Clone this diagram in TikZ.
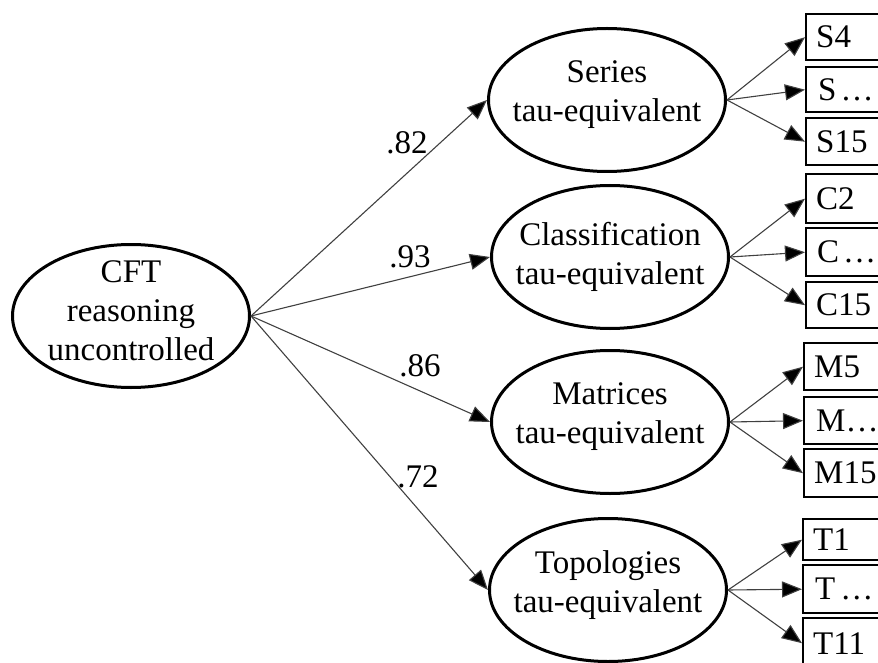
\documentclass[tikz,border=0pt]{standalone}
\usepackage{fontspec}
\setmainfont{Liberation Serif}
\usetikzlibrary{shapes.geometric,arrows.meta}
\begin{document}
\begin{tikzpicture}[x=1pt,y=-1pt,
  font=\fontsize{33}{39}\selectfont,
  latent/.style={ellipse,draw,line width=3pt,minimum width=237pt,minimum height=143pt,inner sep=0pt},
  ltext/.style={label={[align=center,inner sep=0pt,yshift=5pt]center:#1}},
  item/.style={rectangle,draw,line width=2.4pt,text width=80pt,align=left,anchor=north west,inner xsep=10pt,inner ysep=0pt},
  conn/.style={draw=black!75,line width=1.1pt,-{Triangle[length=20pt,width=16pt,fill=black]}},
  lbl/.style={inner sep=0pt}]
\useasboundingbox (0,0) rectangle (878,663);
\clip (0,0) rectangle (878,663);
\node[latent,ltext={CFT\\reasoning\\uncontrolled}] (cft) at (131,316) {};
\node[latent,ltext={Series\\tau-equivalent}] (ser) at (607,100) {};
\node[latent,label={[align=center,inner sep=0pt]center:Classification\\tau-equivalent}] (cla) at (610,257) {};
\node[latent,ltext={Matrices\\tau-equivalent}] (mat) at (610,422) {};
\node[latent,ltext={Topologies\\tau-equivalent}] (top) at (608,590) {};
% items
\node[item,minimum height=46pt] (s1) at (805,13) {S4};
\node[item,minimum height=45pt] (s2) at (805,66) {\hspace*{2pt}S\hspace{4pt}…};
\node[item,minimum height=47pt] (s3) at (805,117) {S15};
\node[item,minimum height=49pt] (c1) at (805,173) {C2};
\node[item,minimum height=48pt] (c2) at (805,227) {\hspace*{1pt}C\hspace{4pt}…};
\node[item,minimum height=46pt] (c3) at (805,281) {C15};
\node[item,minimum height=47pt] (m1) at (803,342) {M5};
\node[item,minimum height=47pt] (m2) at (803,396) {\hspace*{2pt}M…};
\node[item,minimum height=48pt] (m3) at (803,448) {M15};
\node[item,minimum height=41pt] (t1) at (802,518) {T1};
\node[item,minimum height=48pt] (t2) at (802,564) {\hspace*{2pt}T\hspace{5pt}…};
\node[item,minimum height=50pt] (t3) at (802,617) {T11};
% main paths
\draw[conn] (cft.east) -- (ser.west);
\draw[conn] (cft.east) -- (cla.west);
\draw[conn] (cft.east) -- (mat.west);
\draw[conn] (cft.east) -- (top.west);
\node[lbl] (l1) at (407,143) {.82};
\node[lbl] (l2) at (410,257) {.93};
\node[lbl] (l3) at (420,366) {.86};
\node[lbl] (l4) at (418,477) {.72};
% item paths
\foreach \a/\b in {ser/s1,ser/s2,ser/s3,cla/c1,cla/c2,cla/c3,mat/m1,mat/m2,mat/m3,top/t1,top/t2,top/t3}
  \draw[conn] (\a.east) -- (\b.west);
\end{tikzpicture}
\end{document}
